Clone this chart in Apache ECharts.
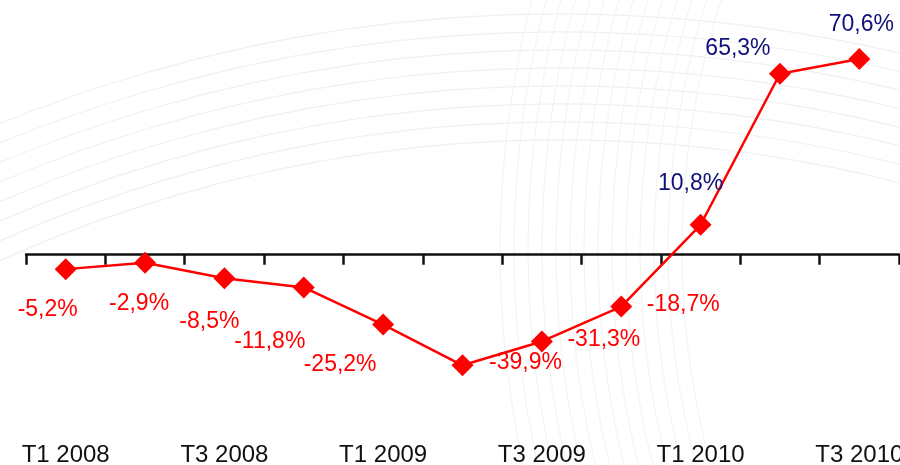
<!DOCTYPE html>
<html>
<head>
<meta charset="utf-8">
<script src="https://cdn.jsdelivr.net/npm/echarts@6/dist/echarts.min.js"></script>
<style>
html,body{margin:0;padding:0;background:#fff;}
#chart{width:900px;height:465px;}
</style>
</head>
<body>
<div id="chart"></div>
<script>
const categories = ['T1 2008','T2 2008','T3 2008','T4 2008','T1 2009','T2 2009','T3 2009','T4 2009','T1 2010','T2 2010','T3 2010'];
const values = [-5.2, -2.9, -8.5, -11.8, -25.2, -39.9, -31.3, -18.7, 10.8, 65.3, 70.6];
const labelOffsets = [[-18,41],[-6,41],[-15,43],[-34,54],[-43,40],[63,-3],[62,-2],[62,-2],[-10,-41],[-42,-25],[2,-34]];

const chart = echarts.init(document.getElementById('chart'));
const fmt = v => v.toFixed(1).replace('.', ',') + '%';

// faint decorative background arcs
const bg = [];
for (let i = 0; i < 8; i++) {
  bg.push({type:'arc', silent:true, z:-10,
    shape:{cx:560, cy:1500, r:1360 + i*18, startAngle:Math.PI*1.3, endAngle:Math.PI*1.75},
    style:{stroke:'#f0f0f0', lineWidth:1.2, fill:null}});
}
for (let i = 0; i < 14; i++) {
  bg.push({type:'arc', silent:true, z:-10,
    shape:{cx:1500, cy:250, r:1000 - i*14, startAngle:Math.PI*0.9, endAngle:Math.PI*1.1},
    style:{stroke:'#f2f2f2', lineWidth:1, fill:null}});
}

chart.setOption({
  backgroundColor:'#fff',
  animation:false,
  graphic: bg,
  grid:{left:26, right:1, top:33, bottom:44, containLabel:false, outerBoundsMode:'none'},
  xAxis:[{
    type:'category', data:categories, boundaryGap:true,
    axisLine:{onZero:true, lineStyle:{color:'#111', width:2.5}},
    axisTick:{show:true, length:10, lineStyle:{color:'#111', width:2.5}},
    axisLabel:{show:false}, splitLine:{show:false}
  },{
    type:'category', data:categories, boundaryGap:true, position:'bottom',
    axisLine:{show:false, onZero:false}, axisTick:{show:false},
    axisLabel:{show:true, interval:1, margin:22, color:'#111', fontSize:24, fontFamily:'Liberation Sans, Arial, sans-serif'}
  }],
  yAxis:{type:'value', min:-60, max:80, show:false, splitLine:{show:false}},
  series:[{
    type:'line', xAxisIndex:0, data: values.map((v,i)=>({
      value:v,
      label:{
        show:true, position:'inside', offset:labelOffsets[i],
        color: v < 0 ? '#ff0000' : '#10107a'
      }
    })),
    symbol:'diamond', symbolSize:22,
    lineStyle:{color:'#ff0000', width:2.5},
    itemStyle:{color:'#ff0000'},
    label:{show:true, formatter:p => fmt(p.value), fontSize:23, fontFamily:'Liberation Sans, Arial, sans-serif', align:'center', verticalAlign:'middle'}
  }]
});
</script>
</body>
</html>
